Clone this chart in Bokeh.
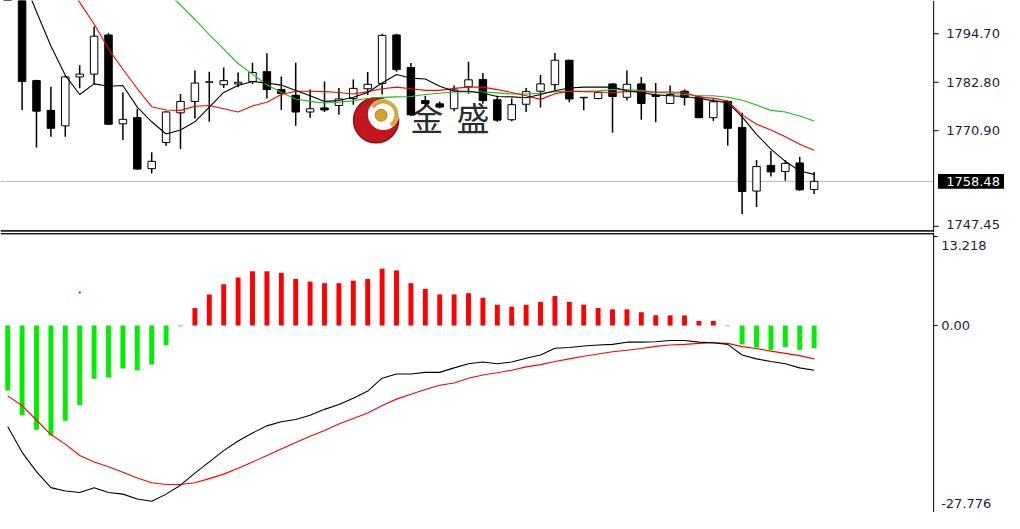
from bokeh.plotting import figure
from bokeh.layouts import column
from bokeh.models import Range1d, Span, ColumnDataSource
from bokeh.embed import file_html
from bokeh.resources import INLINE
from bokeh.core.properties import value

nan = float("nan")

# ---------------- data ----------------
opens = [1808.0, 1806.5, 1783.2, 1775.9, 1772.1, 1784.1, 1784.8, 1794.4, 1772.6, 1774.1,
         1761.6, 1768.0, 1775.3, 1778.1, 1782.8, 1782.2, 1782.4, 1783.0, 1785.4, 1781.0,
         1779.6, 1775.5, 1776.5, 1777.1, 1778.8, 1781.2, 1782.5, 1794.4, 1786.4, 1778.3,
         1777.5, 1776.3, 1781.7, 1783.5, 1778.5, 1773.6, 1777.4, 1780.6, 1782.2, 1788.2,
         1779.1, 1778.8, 1782.4, 1779.1, 1782.4, 1779.6, 1777.6, 1780.6, 1779.2, 1774.1,
         1778.1, 1771.7, 1756.1, 1762.4, 1760.9, 1763.0, 1756.5]
highs = [1811.0, 1808.0, 1783.4, 1781.7, 1784.5, 1787.0, 1796.5, 1794.8, 1780.3, 1776.3,
         1765.6, 1775.7, 1779.9, 1785.7, 1785.4, 1786.4, 1785.2, 1787.6, 1789.9, 1784.2,
         1787.6, 1781.0, 1783.0, 1781.4, 1783.5, 1785.3, 1794.7, 1794.7, 1787.5, 1779.5,
         1778.1, 1782.0, 1787.8, 1785.1, 1779.5, 1778.8, 1781.4, 1784.6, 1790.0, 1788.3,
         1779.2, 1780.6, 1782.5, 1785.7, 1784.1, 1782.6, 1782.0, 1781.0, 1779.5, 1778.7,
         1778.3, 1775.3, 1763.7, 1765.9, 1763.7, 1764.5, 1760.8]
lows = [1804.0, 1776.0, 1766.8, 1769.4, 1769.4, 1781.3, 1782.4, 1772.3, 1768.6, 1761.3,
        1760.4, 1767.2, 1766.4, 1773.9, 1773.1, 1781.4, 1781.6, 1782.4, 1778.8, 1776.0,
        1772.1, 1774.1, 1775.5, 1774.8, 1777.3, 1779.7, 1779.8, 1785.4, 1774.5, 1776.7,
        1776.4, 1775.7, 1780.0, 1777.5, 1773.1, 1773.2, 1775.5, 1776.6, 1780.9, 1777.9,
        1775.9, 1778.6, 1770.4, 1778.3, 1773.6, 1773.0, 1777.5, 1777.1, 1774.0, 1773.3,
        1767.2, 1750.5, 1752.2, 1759.7, 1758.6, 1756.2, 1755.4]
closes = [1806.0, 1783.0, 1775.7, 1771.5, 1784.1, 1784.8, 1794.1, 1772.5, 1773.7, 1761.5,
          1763.4, 1775.5, 1778.1, 1782.6, 1782.9, 1783.2, 1782.8, 1785.2, 1781.0, 1780.0,
          1775.5, 1776.3, 1776.0, 1778.7, 1781.3, 1782.3, 1794.3, 1785.9, 1774.8, 1777.6,
          1776.7, 1780.9, 1783.4, 1778.3, 1773.5, 1777.3, 1780.5, 1782.4, 1788.2, 1778.7,
          1779.0, 1780.3, 1779.3, 1782.3, 1777.6, 1779.3, 1779.8, 1779.1, 1774.1, 1778.0,
          1771.5, 1756.0, 1762.1, 1760.8, 1762.9, 1756.4, 1758.48]

ma_fast = [nan, 1808.8, 1800.1, 1791.7, 1784.5, 1779.8, 1782.4, 1781.8, 1782.0, 1776.7,
           1773.1, 1770.1, 1771.1, 1773.1, 1776.7, 1780.3, 1782.0, 1783.0, 1782.6, 1782.1,
           1780.8, 1779.5, 1778.1, 1778.3, 1779.1, 1780.3, 1782.6, 1784.7, 1783.8, 1783.6,
           1781.8, 1780.6, 1780.6, 1780.1, 1779.3, 1779.2, 1779.0, 1779.8, 1780.7, 1781.4,
           1781.6, 1781.6, 1781.6, 1780.7, 1780.3, 1779.7, 1779.5, 1779.3, 1778.8, 1778.3,
           1777.8, 1774.3, 1770.0, 1766.4, 1763.4, 1761.0, 1760.2]
ma_mid = [nan, nan, nan, nan, 1808.1, 1802.4, 1797.1, 1791.0, 1786.0, 1781.2,
          1776.8, 1776.0, 1775.9, 1776.9, 1777.1, 1776.3, 1775.5, 1777.0, 1777.9, 1779.8,
          1780.6, 1780.6, 1780.5, 1780.3, 1779.9, 1780.5, 1781.2, 1781.6, 1781.2, 1780.8,
          1780.8, 1781.3, 1781.6, 1781.6, 1781.0, 1780.3, 1779.5, 1778.6, 1780.0, 1780.6,
          1780.5, 1780.4, 1780.3, 1780.5, 1780.5, 1780.4, 1780.4, 1780.3, 1779.1, 1778.9,
          1778.2, 1774.8, 1772.5, 1771.1, 1769.4, 1767.6, 1766.1]
ma_slow = [nan, nan, nan, nan, nan, nan, nan, nan, nan, nan,
           nan, 1805.2, 1801.7, 1798.2, 1794.5, 1791.0, 1787.4, 1784.8, 1782.2, 1780.3,
           1778.7, 1778.1, 1777.7, 1777.9, 1778.3, 1778.8, 1779.1, 1779.2, 1779.3, 1779.8,
           1780.1, 1780.4, 1780.4, 1780.4, 1780.2, 1779.9, 1779.9, 1780.1, 1780.5, 1780.6,
           1780.6, 1780.7, 1781.0, 1781.0, 1780.8, 1780.3, 1780.1, 1779.8, 1779.5, 1779.5,
           1779.1, 1778.4, 1777.2, 1775.9, 1775.5, 1774.5, 1773.3]

macd_hist = [-9.64, -13.32, -15.47, -16.33, -14.13, -11.79, -7.92, -7.72, -6.39, -6.63,
             -5.77, -2.94, -0.1, 2.61, 4.62, 6.14, 7.15, 8.06, 8.06, 7.82,
             6.92, 6.53, 6.29, 6.29, 6.67, 6.92, 8.44, 8.2, 6.29, 5.43,
             4.62, 4.62, 4.81, 4.13, 3.09, 2.80, 3.09, 3.52, 4.38, 3.52,
             3.09, 2.61, 2.41, 2.41, 1.98, 1.53, 1.51, 1.50, 0.69, 0.69,
             -0.1, -2.80, -3.27, -3.61, -3.18, -3.61, -3.37]
macd_main = [-15.0, -18.83, -21.70, -24.08, -24.57, -24.80, -24.08, -24.80, -25.04, -25.76,
             -26.09, -25.04, -23.71, -21.93, -20.26, -18.58, -17.15, -15.96, -14.90, -14.28,
             -13.95, -13.32, -12.45, -11.74, -10.79, -9.73, -7.82, -7.20, -7.20, -6.96,
             -6.96, -6.29, -5.67, -5.42, -5.67, -5.42, -4.85, -4.38, -3.37, -3.27,
             -3.04, -2.89, -2.80, -2.47, -2.47, -2.40, -2.22, -2.22, -2.47, -2.56,
             -2.80, -4.38, -4.95, -5.33, -5.67, -6.29, -6.63]
macd_signal = [-10.45, -11.88, -14.03, -16.19, -17.62, -19.30, -20.26, -20.98, -21.78, -22.64,
               -23.36, -23.61, -23.61, -23.36, -22.74, -22.07, -21.21, -20.26, -19.30, -18.34,
               -17.39, -16.43, -15.6, -14.61, -13.80, -12.99, -11.88, -10.93, -10.22, -9.50,
               -8.87, -8.54, -7.82, -7.35, -7.00, -6.63, -6.14, -5.81, -5.33, -4.95,
               -4.56, -4.23, -3.90, -3.66, -3.42, -3.10, -2.89, -2.80, -2.65, -2.56,
               -2.65, -3.13, -3.42, -3.80, -4.13, -4.47, -4.95]
stray_dot_index = [5]
stray_dot_value = [4.9]

price_ticks = [1794.70, 1782.80, 1770.90, 1747.45]
price_tick_labels = ["1794.70", "1782.80", "1770.90", "1747.45"]
last_price = 1758.48
macd_tick_values = [13.218, 0.0, -27.776]
macd_tick_labels = ["13.218", "0.00", "-27.776"]
watermark_text = ["金", "盛"]

# ---------------- layout ----------------
W = 1004
H_TOP = 232
H_BOT = 280
FONT = "DejaVu Sans"
LABEL_COLOR = "#1e1e3c"

price_lo, price_hi = 1745.93, 1802.86
macd_lo, macd_hi = -27.77, 13.82

X0, X1 = -0.499, 69.22          # full canvas width (frame covers label area too)
AXIS_X = 64.30                   # location of the price / indicator scale line
px_per_x = W / (X1 - X0)

idx = list(range(len(opens)))
x_range = Range1d(X0, X1)


def base_fig(h, yr):
    p = figure(width=W, height=h, x_range=x_range, y_range=yr,
               output_backend="svg", toolbar_location=None,
               x_axis_location=None, y_axis_location=None,
               min_border_left=0, min_border_top=0, min_border_bottom=0,
               min_border_right=0)
    p.grid.visible = False
    p.outline_line_color = None
    p.background_fill_color = "white"
    p.border_fill_color = "white"
    p.add_layout(Span(location=AXIS_X, dimension="height", line_color="black", line_width=1))
    return p


def scale(p, ticks, labels, label_pos, tick_len, label_gap):
    x_tick_end = AXIS_X + tick_len / px_per_x
    p.segment(x0=[AXIS_X] * len(ticks), y0=ticks, x1=[x_tick_end] * len(ticks), y1=ticks,
              line_color="black", line_width=1)
    p.text(x=[AXIS_X + label_gap / px_per_x] * len(labels), y=label_pos, text=labels,
           text_font=value(FONT), text_font_size="13px", text_color=LABEL_COLOR,
           text_align="left", text_baseline="middle")


# ---------------- price panel ----------------
p1 = base_fig(H_TOP, Range1d(price_lo, price_hi))
top_ppu = H_TOP / (price_hi - price_lo)

# watermark (beneath the chart)
p1.scatter(x=[25.58], y=[1773.47], size=45, marker="circle",
           fill_color="#c4161d", line_color="#8e0e13", line_width=1.5, level="underlay")
p1.scatter(x=[26.09], y=[1774.89], size=31, marker="circle",
           fill_color="white", line_color=None, level="underlay")
p1.annular_wedge(x=[26.09], y=[1774.89], inner_radius=11, outer_radius=15,
                 inner_radius_units="screen", outer_radius_units="screen",
                 start_angle=-55, end_angle=145, start_angle_units="deg", end_angle_units="deg",
                 fill_color="#d2aa3c", line_color=None, level="underlay")
p1.scatter(x=[25.93], y=[1774.70], size=12, marker="circle",
           fill_color="#cfa52e", line_color="#b08a20", level="underlay")
p1.text(x=[29.1, 32.31], y=[1774.3, 1774.3], text=watermark_text,
        text_font=value("Noto Sans CJK SC"), text_font_size="33px",
        text_color="#2c2c2c", text_align="center", text_baseline="middle", level="underlay")

# current price line (up to the scale)
p1.segment(x0=[X0], y0=[last_price], x1=[AXIS_X], y1=[last_price],
           line_color="#b8b8b8", line_width=1, level="underlay")
# panel separator
sep_top = price_lo + 1.6 / top_ppu
p1.segment(x0=[X0], y0=[sep_top], x1=[AXIS_X], y1=[sep_top], line_color="#202020", line_width=1.6)

bull = [c >= o for o, c in zip(opens, closes)]
src = ColumnDataSource(dict(
    x=idx, h=highs, l=lows,
    top=[max(o, c) for o, c in zip(opens, closes)],
    bottom=[min(o, c) for o, c in zip(opens, closes)],
    fill=["white" if b else "black" for b in bull],
))
p1.segment(x0="x", y0="h", x1="x", y1="l", source=src, line_color="black", line_width=1.5)
p1.vbar(x="x", top="top", bottom="bottom", width=0.52, source=src,
        fill_color="fill", line_color="black", line_width=1)

p1.line(idx, ma_slow, line_color="#19c119", line_width=1.1)
p1.line(idx, ma_mid, line_color="#ff0000", line_width=1.1)
p1.line(idx, ma_fast, line_color="#000000", line_width=1.1)

price_label_pos = list(price_ticks)
price_label_pos[-1] = price_ticks[-1] + 2.0 / top_ppu
scale(p1, price_ticks, price_tick_labels, price_label_pos, tick_len=5, label_gap=12.5)

# current price box
half_box = 7.4 / top_ppu
p1.quad(left=[AXIS_X + 4.3 / px_per_x], right=[X1 + 1], bottom=[last_price - half_box],
        top=[last_price + half_box], fill_color="black", line_color=None)
p1.text(x=[AXIS_X + 12.5 / px_per_x], y=[last_price], text=[f"{last_price:.2f}"],
        text_font=value(FONT), text_font_size="13px", text_color="white",
        text_align="left", text_baseline="middle")

# ---------------- MACD panel ----------------
p2 = base_fig(H_BOT, Range1d(macd_lo, macd_hi))
bot_ppu = H_BOT / (macd_hi - macd_lo)

sep_bot = macd_hi - 1.3 / bot_ppu
p2.segment(x0=[X0], y0=[sep_bot], x1=[AXIS_X], y1=[sep_bot], line_color="#202020", line_width=1.4)

hsrc = ColumnDataSource(dict(
    x=idx, top=macd_hist,
    color=["#ff0000" if v > 0 else "#00ee00" for v in macd_hist],
))
p2.vbar(x="x", top="top", bottom=0, width=0.34, source=hsrc,
        fill_color="color", line_color=None)
p2.scatter(stray_dot_index, stray_dot_value, size=2, marker="square",
           fill_color="#ff0000", line_color=None)
p2.line(idx, macd_signal, line_color="#ff0000", line_width=1.1)
p2.line(idx, macd_main, line_color="#000000", line_width=1.1)

shift = 9.0 / bot_ppu
macd_label_pos = [macd_tick_values[0] - shift, macd_tick_values[1], macd_tick_values[2] + shift]
scale(p2, macd_tick_values, macd_tick_labels, macd_label_pos, tick_len=4, label_gap=7.5)

layout = column(p1, p2, spacing=0)
open("out.html", "w").write(file_html(layout, INLINE))
